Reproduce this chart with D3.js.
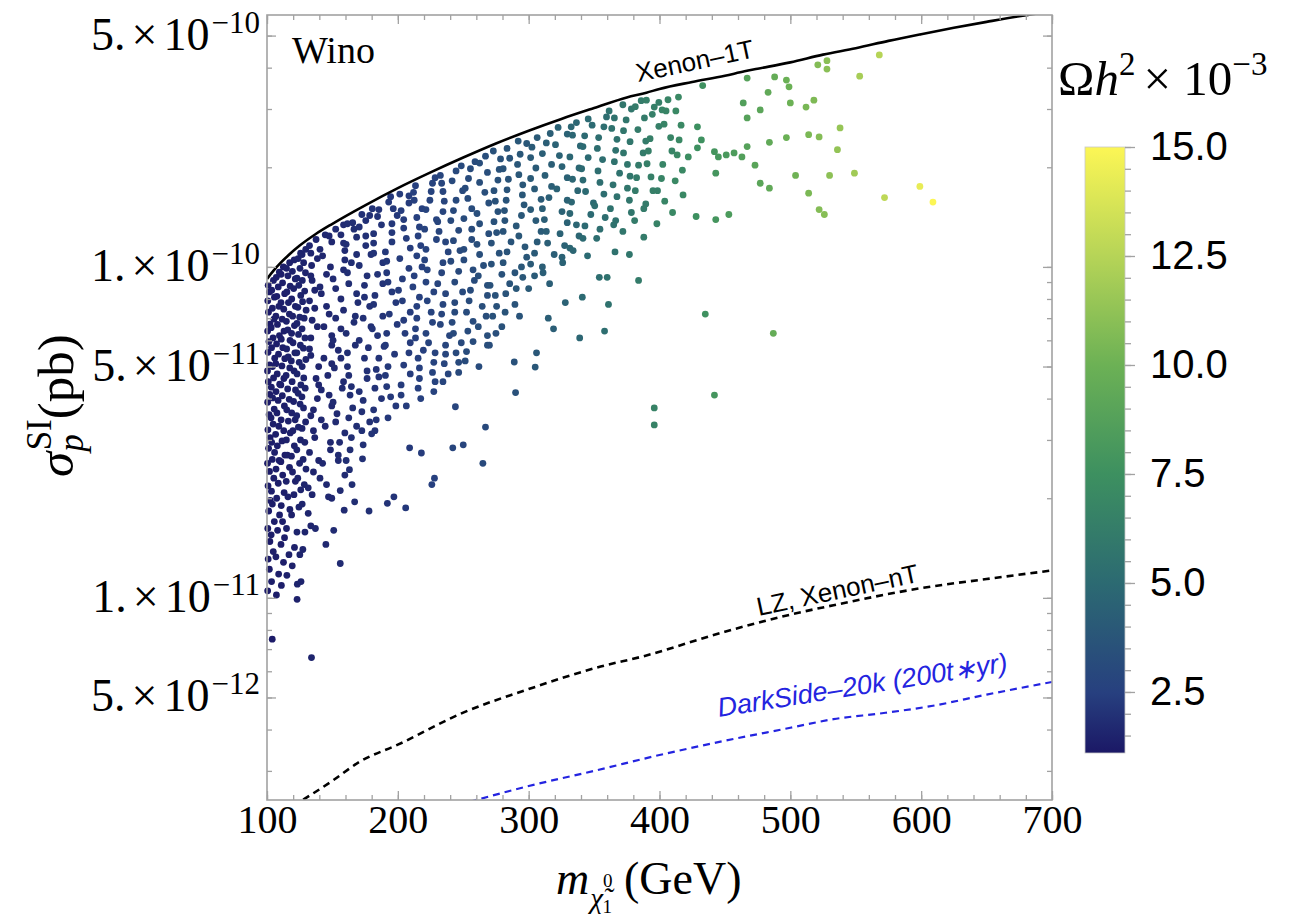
<!DOCTYPE html>
<html><head><meta charset="utf-8">
<script src="https://cdn.jsdelivr.net/npm/d3@7"></script>
<style>body{margin:0;background:#fff}svg{display:block}</style>
</head><body>
<svg id="chart" width="1294" height="922"></svg>
<script>
// ---------- data ----------
const xDomain = [100, 700];
const yDomain = [2.45e-12, 5.77e-10];
const xTicks = [100, 200, 300, 400, 500, 600, 700];
const yTickValues = [5e-10, 1e-10, 5e-11, 1e-11, 5e-12];
const yTickMant = ["5.", "1.", "5.", "1.", "5."];
const yTickExp = ["\u221210", "\u221210", "\u221211", "\u221211", "\u221212"];
const colorDomain = [1.1, 15.0];
const colorTicks = [2.5, 5.0, 7.5, 10.0, 12.5, 15.0];
const colorTickLabels = ["2.5", "5.0", "7.5", "10.0", "12.5", "15.0"];
const colorStops = [0, 0.10, 0.28, 0.46, 0.64, 0.82, 1.0];
const colorColors = ["#1b1866", "#27407f", "#2c6a72", "#3d9060", "#6cb155", "#b6d457", "#fcf655"];

// Xenon-1T limit (pb)
const xenon1TMass = [100,105,110,117,125,137,150,175,200,225,250,275,300,325,350,375,390,400,425,450,465,475,500,525,550,575,600,625,650,675,700];
const xenon1TSigma = [9.2e-11,9.75e-11,1.025e-10,1.09e-10,1.16e-10,1.255e-10,1.35e-10,1.535e-10,1.73e-10,1.93e-10,2.14e-10,2.36e-10,2.58e-10,2.80e-10,3.02e-10,3.25e-10,3.36e-10,3.45e-10,3.62e-10,3.78e-10,3.90e-10,3.97e-10,4.15e-10,4.38e-10,4.58e-10,4.82e-10,5.05e-10,5.28e-10,5.50e-10,5.72e-10,5.92e-10];
// LZ, Xenon-nT projection (pb)
const lzMass = [120,150,171,200,250,300,355,387,450,500,533,600,650,700];
const lzSigma = [2.35e-12,2.8e-12,3.2e-12,3.6e-12,4.5e-12,5.3e-12,6.2e-12,6.65e-12,7.9e-12,8.9e-12,9.5e-12,1.07e-11,1.14e-11,1.21e-11];
// DarkSide-20k (200 t*yr) projection (pb)
const darksideMass = [255,300,350,400,450,500,533,570,609,650,700];
const darksideSigma = [2.42e-12,2.7e-12,3.0e-12,3.35e-12,3.7e-12,4.05e-12,4.3e-12,4.48e-12,4.72e-12,5.1e-12,5.57e-12];

// scan points grouped by colour: [Omega h^2 (1e-3), [[mass GeV, sigma (1e-11 pb)], ...]]
const pointGroups = [
[1.2,[[100.5,1.05],[101.8,1.22],[100.9,1.31],[102.2,1.48],[100.6,1.62],[101.3,1.83],[102.5,1.97],[100.8,2.18],[101.9,2.41],[100.4,2.55],[101.2,2.83],[102.4,3.05],[100.7,3.22],[101.6,3.58],[100.5,3.9],[102.1,4.12],[101.0,4.5],[100.4,4.85],[101.9,5.06],[100.8,5.52],[101.5,5.95],[100.5,6.4],[102.3,6.72],[101.1,7.3],[100.6,7.9],[101.8,8.4],[100.9,8.8],[104,0.75]]],
[1.3,[[103.5,1.12],[104.8,1.38],[103.2,1.55],[105.6,1.7],[104.1,1.92],[103.4,2.1],[105.2,2.3],[104.0,2.62],[105.8,2.75],[103.6,2.95],[104.7,3.35],[103.1,3.5],[105.5,3.72],[104.3,4.02],[103.3,4.33],[105.0,4.62],[104.2,5.0],[105.9,5.3],[103.5,5.7],[104.6,6.1],[103.2,6.55],[105.3,6.95],[104.1,7.5],[105.7,8.1],[103.6,8.5],[104.9,9.1],
 [107.2,1.02],[108.9,1.18],[106.8,1.33],[108.1,1.6],[109.6,1.78],[107.4,2.0],[108.6,2.22],[106.9,2.45],[109.3,2.6],[107.9,2.88],[106.6,3.12],[109.0,3.3],[107.6,3.62],[108.5,3.95],[106.9,4.2],[109.7,4.42],[107.8,4.75],[106.7,5.1],[108.8,5.45],[107.3,5.85],[109.5,6.2],[108.0,6.7],[106.8,7.1],[109.1,7.6],[107.5,8.15],[108.6,8.7],[107.1,9.3],[109.4,9.65],
 [111.0,1.09],[112.6,1.28],[110.7,1.45],[113.4,1.52],[111.9,1.7],[110.9,1.9],[113.1,2.08],[112.0,2.35],[110.6,2.58],[113.7,2.7],[111.5,2.98],[112.8,3.2],[110.8,3.45],[113.3,3.8],[111.7,4.08],[110.6,4.4],[112.9,4.6],[111.4,5.02],[113.6,5.28],[112.1,5.7],[110.9,6.05],[113.0,6.4],[111.6,6.95],[112.8,7.45],[110.7,7.8],[113.5,8.3],[111.9,8.95],[110.8,9.5],[112.5,10.0]]],
[1.4,[[115.2,1.17],[116.8,1.35],[114.9,1.62],[117.5,1.85],[116.0,2.02],[114.7,2.25],[117.2,2.48],[115.6,2.7],[114.8,3.0],[117.8,3.15],[116.3,3.42],[115.1,3.7],[117.0,3.98],[115.8,4.28],[114.6,4.7],[117.4,4.95],[116.2,5.35],[115.0,5.65],[117.6,6.0],[115.9,6.45],[114.8,6.85],[117.1,7.2],[116.4,7.8],[115.2,8.4],[117.7,8.75],[116.0,9.4],[114.9,9.9],[117.3,10.3],
 [119.3,1.25],[121.0,1.42],[118.8,1.78],[120.6,2.05],[121.7,2.25],[119.5,2.4],[118.7,2.68],[120.9,2.88],[119.8,3.2],[121.5,3.45],[118.9,3.62],[120.3,3.92],[121.8,4.25],[119.2,4.5],[120.7,4.85],[118.6,5.2],[121.3,5.5],[119.9,5.9],[118.8,6.3],[121.0,6.65],[119.6,7.1],[121.7,7.6],[118.9,8.0],[120.4,8.6],[121.6,9.2],[119.4,9.7],[120.8,10.5],[123,0.99]]],
[1.5,[[123.2,1.1],[125.1,1.35],[122.9,1.58],[124.4,1.88],[125.8,2.12],[123.5,2.3],[124.9,2.55],[122.8,2.8],[125.6,3.0],[124.0,3.28],[122.7,3.55],[125.3,3.85],[123.8,4.15],[125.9,4.4],[123.0,4.75],[124.6,5.15],[122.8,5.5],[125.5,5.8],[124.1,6.25],[122.9,6.75],[125.0,7.05],[123.6,7.55],[125.8,8.2],[124.3,8.8],[122.9,9.25],[125.2,9.9],[123.8,10.6],[125.7,11.0],
 [127.4,1.4],[129.0,1.58],[126.9,1.92],[128.5,2.2],[129.8,2.45],[127.6,2.62],[128.9,2.95],[126.8,3.25],[129.5,3.4],[127.9,3.75],[126.7,4.05],[129.2,4.3],[128.1,4.62],[126.9,5.0],[129.7,5.25],[127.8,5.68],[129.0,6.1],[126.8,6.5],[128.4,7.0],[129.9,7.4],[127.2,7.85],[128.8,8.45],[127.0,9.1],[129.4,9.6],[128.0,10.3],[126.8,10.9],[129.6,11.3],[126,1.12],[134,0.66]]],
[1.55,[[133.5,1.65],[131.5,1.8],[134.5,2.05],[131.5,2.15],[135.5,2.4],[139.5,2.6],[132.5,2.75],[136.5,3.05],[135.5,3.2],[133.5,3.55],[135.5,3.7],[138.5,4.0],[139.5,4.4],[137.5,4.6],[139.5,5.0],[133.5,5.4],[132.5,5.65],[133.5,6.1],[138.5,6.6],[134.5,6.9],[136.5,7.5],[132.5,7.9],[136.5,8.5],[134.5,9.1],[133.5,9.4],[134.1,10.1],[138.5,10.6],[133.5,11.0],[132.5,11.6],[137.5,12.1]]],
[1.65,[[149.5,2.0],[145.5,2.2],[140.5,2.3],[142.5,2.55],[148.5,2.8],[148.5,2.95],[144.5,3.3],[141.5,3.45],[149.5,3.8],[147.5,4.1],[141.5,4.25],[146.5,4.7],[149.5,5.1],[143.5,5.3],[149.5,5.8],[149.5,6.2],[143.5,6.6],[147.5,7.2],[145.5,7.6],[141.5,8.3],[140.5,8.7],[145.5,9.5],[148.5,10.0],[142.5,10.8],[140.5,11.3],[149.5,11.9],[147.5,12.4],[144.5,12.5],[137,1.62],[145,1.45],[147,2.02]]],
[1.75,[[159.5,2.35],[154.5,2.6],[154.5,2.7],[155.5,2.95],[159.5,3.15],[152.5,3.4],[153.5,3.6],[150.5,3.9],[157.5,4.3],[158.5,4.5],[151.5,4.95],[156.5,5.3],[154.5,5.6],[150.5,6.0],[156.5,6.5],[152.5,7.0],[158.5,7.4],[156.5,8.0],[152.5,8.6],[150.5,9.2],[158.5,9.8],[159.5,10.5],[159.5,11.2],[158.5,11.8],[156.5,12.5],[152.5,13.0],[158.5,13.4],[156,1.27],[151,1.60],[156,2.11],[159,1.84]]],
[1.85,[[160.5,2.6],[163.5,2.8],[164.5,3.05],[168.5,3.3],[162.5,3.5],[165.5,3.75],[163.5,4.1],[164.5,4.35],[162.5,4.7],[161.5,5.0],[161.5,5.5],[167.5,5.8],[160.5,6.3],[166.5,6.8],[167.5,7.1],[169.5,7.8],[168.5,8.3],[162.5,8.9],[161.5,9.6],[164.5,10.3],[168.5,10.9],[160.5,11.7],[168.5,12.3],[166.5,13.0],[165.5,13.6],[161.5,13.5],[165,2.20],[163,2.44],[167,1.95]]],
[1.95,[[173.5,2.9],[172.5,3.2],[178.5,3.4],[172.5,3.65],[173.5,3.95],[170.5,4.2],[176.5,4.6],[176.5,4.85],[174.5,5.3],[177.5,5.7],[170.5,6.0],[179.5,6.6],[173.5,7.0],[178.5,7.6],[174.5,8.1],[174.5,8.8],[176.5,9.4],[170.5,10.1],[179.5,10.9],[175.5,11.6],[175.5,12.4],[170.5,13.2],[175.5,13.8],[178.5,14.3],[172.5,14.4],[178,1.83],[173,2.63]]],
[2.05,[[182.5,3.2],[183.5,3.45],[181.5,3.7],[187.5,4.0],[182.5,4.3],[185.5,4.65],[183.5,4.9],[185.5,5.3],[189.5,5.75],[184.5,6.2],[180.5,6.5],[188.5,7.1],[181.5,7.7],[182.5,8.2],[188.5,8.9],[184.5,9.5],[188.5,10.3],[181.5,11.0],[181.5,11.8],[181.5,12.6],[187.5,13.4],[184.5,14.2],[185.5,14.9],[180.5,15.0],[192,1.93],[180,3.13],[197,2.02]]],
[2.2,[[192.5,3.5],[198.5,3.8],[194.5,4.05],[191.5,4.35],[190.5,4.7],[192.5,5.0],[197.5,5.45],[190.5,5.8],[191.5,6.3],[199.5,6.7],[193.5,7.2],[198.5,7.8],[195.5,8.4],[192.5,9.0],[191.5,9.6],[191.5,10.4],[190.5,11.1],[195.5,11.9],[195.5,12.7],[195.5,13.5],[199.5,14.3],[196.5,15.0],[193.0,15.7],[194.5,16.3],[206,1.87],[209,2.84]]],
[2.35,[[206.5,3.8],[202.5,4.1],[202.5,4.4],[209.5,4.75],[204.5,5.05],[208.5,5.5],[209.5,5.9],[205.5,6.3],[204.5,6.9],[209.5,7.3],[203.5,7.9],[200.5,8.5],[203.5,9.2],[208.5,9.9],[201.5,10.6],[209.5,11.4],[206.5,12.2],[204.5,13.1],[204.5,13.9],[202.5,14.8],[208.5,15.6],[208.5,16.4],[201.5,16.6],[218,2.74]]],
[2.5,[[217.5,4.0],[215.5,4.3],[216.5,4.6],[216.5,4.95],[215.5,5.3],[219.5,5.6],[213.5,6.1],[213.5,6.5],[214.5,7.0],[214.5,7.6],[216.5,8.1],[211.5,8.7],[212.5,9.4],[218.5,10.0],[214.5,10.8],[217.5,11.6],[215.5,12.4],[216.5,13.2],[214.5,14.1],[218.5,15.0],[212.5,15.9],[212.0,16.8],[213.5,17.6],[226,2.20],[228,2.30]]],
[2.65,[[227.5,4.2],[228.5,4.5],[226.5,4.8],[227.5,5.15],[228.5,5.5],[223.5,5.9],[221.5,6.3],[226.5,6.8],[225.5,7.3],[222.5,7.9],[227.5,8.4],[221.5,9.0],[222.5,9.8],[220.5,10.5],[221.5,11.3],[229.5,12.1],[220.5,13.0],[229.5,13.9],[221.5,14.9],[224.5,15.9],[225.5,16.9],[226.5,17.9],[228.5,18.6]]],
[2.8,[[234.5,4.5],[238.5,4.75],[235.5,5.1],[236.5,5.45],[236.5,5.8],[239.5,6.2],[232.5,6.7],[233.5,7.2],[234.5,7.7],[236.5,8.3],[230.5,8.9],[233.5,9.6],[234.5,10.3],[238.5,11.1],[236.5,11.9],[231.5,12.8],[230.5,13.7],[234.5,14.7],[235.5,15.8],[234.5,16.9],[233.5,17.9],[232.5,18.9],[242,2.84],[244,3.78],[250,2.9]]],
[3.0,[[246.5,4.8],[246.5,5.15],[244.5,5.5],[248.5,5.9],[242.5,6.3],[241.5,6.8],[243.5,7.3],[243.5,7.8],[249.5,8.4],[243.5,9.0],[246.5,9.7],[240.5,10.4],[247.5,11.2],[242.5,12.0],[246.5,12.9],[240.5,13.8],[242.5,14.8],[244.5,15.9],[249.5,17.0],[241.5,18.2],[244.5,19.5],[248.5,20.2],[265,2.55],[267,3.28]]],
[3.15,[[251.5,5.2],[252.5,5.55],[257.5,5.95],[253.5,6.4],[257.5,6.85],[252.5,7.3],[254.5,7.9],[255.5,8.5],[258.5,9.1],[257.5,9.8],[250.5,10.5],[250.5,11.3],[256.5,12.1],[256.5,13.0],[250.5,14.0],[256.5,15.0],[253.5,16.1],[251.5,17.3],[254.0,18.5],[255.5,19.8],[259.0,20.8],[262,5.0]]],
[3.3,[[268.5,5.8],[268.5,6.2],[261.5,6.6],[267.5,7.1],[264.5,7.6],[268.5,8.2],[268.5,8.8],[261.5,9.4],[265.5,10.1],[262.5,10.9],[260.5,11.7],[269.5,12.6],[262.5,13.5],[260.5,14.5],[269.5,15.6],[266.5,16.8],[262.5,18.0],[268.5,19.3],[262.5,20.6],[267.0,21.6],[270,5.8],[275,6.3]]],
[3.5,[[279.5,6.6],[272.5,7.1],[275.5,7.6],[274.5,8.2],[270.5,8.8],[279.5,9.5],[271.5,10.2],[277.5,11.0],[271.5,11.8],[275.5,12.7],[273.5,13.7],[276.5,14.7],[274.5,15.8],[273.5,17.0],[276.5,18.3],[277.5,19.7],[278.5,21.2],[273.0,22.4],[290,4.17],[289,5.16]]],
[3.65,[[289.5,7.7],[282.5,8.3],[285.5,8.9],[289.5,9.6],[280.5,10.3],[283.5,11.1],[286.5,11.9],[280.5,12.8],[281.8,13.8],[281.5,14.8],[282.8,15.9],[283.5,17.1],[284.5,18.4],[280.5,19.8],[285.5,21.3],[283.5,22.8],[282,7.3],[293,7.1]]],
[3.85,[[290.5,8.6],[295.5,9.3],[294.5,10.0],[298.5,10.7],[297.2,11.5],[292.5,12.4],[290.5,13.3],[294.5,14.3],[296.5,15.4],[295.2,16.5],[295.5,17.7],[292.5,19.0],[291.5,20.4],[293.5,21.9],[298.5,23.6],[292.0,24.0],[305,4.98],[306,5.5]]],
[4.05,[[304.5,9.4],[301.5,10.2],[304.5,11.0],[306.5,11.9],[309.5,12.8],[305.5,13.8],[301.5,14.9],[309.5,16.0],[304.5,17.2],[301.5,18.5],[305.5,19.9],[301.5,21.4],[302.5,23.0],[306.5,24.6],[300,8.6]]],
[4.25,[[310.5,10.0],[319.5,10.9],[314.5,11.8],[313.5,12.8],[312.0,13.9],[310.5,15.0],[315.5,16.2],[317.5,17.5],[312.5,18.9],[317.5,20.4],[310.5,22.0],[313.5,23.7],[316.5,25.3],[311,9.6],[316,8.9],[315,7.0],[319,6.5]]],
[4.5,[[325.5,10.7],[327.5,11.6],[324.0,12.6],[329.5,13.6],[325.5,14.7],[329.5,15.9],[321.5,17.2],[329.5,18.6],[325.5,20.1],[323.5,21.7],[320.5,23.4],[329.5,25.2],[322.5,26.4],[326,10.3],[328,7.8]]],
[4.75,[[331.5,11.4],[338.5,12.4],[336.5,13.4],[331.5,14.5],[332.8,15.7],[337.5,17.0],[333.5,18.4],[338.5,19.9],[331.5,21.5],[339.5,23.2],[333.5,25.0],[332.5,26.5],[336.5,27.3],[334,11.2],[339,6.1]]],
[5.0,[[341.5,12.2],[343.0,13.3],[347.5,14.4],[349.5,15.6],[343.5,16.9],[341.5,18.3],[340.5,19.8],[345.5,21.4],[341.5,23.1],[342.8,24.9],[348.5,26.8],[345.5,28.0],[345,10.8],[341,8.1]]],
[5.25,[[354.5,13.0],[358.5,14.1],[350.5,15.3],[357.5,16.6],[354.5,18.0],[353.0,19.5],[356.5,21.1],[352.5,22.8],[353.5,24.6],[357.5,26.5],[359.5,28.4],[352,12.2],[354,9.3],[358,6.4]]],
[5.5,[[366.5,13.8],[362.5,15.0],[367.5,16.3],[364.5,17.7],[369.5,19.2],[365.5,20.8],[366.5,22.5],[367.5,24.3],[363.5,26.2],[365.5,28.2],[361.5,29.6],[360,9.3],[361,7.7],[365,13.4],[366,11.1]]],
[5.8,[[378.5,14.6],[377.0,15.9],[375.5,17.3],[377.5,18.8],[375.5,20.4],[372.5,22.1],[377.5,23.9],[372.5,25.8],[374.5,27.8],[378.5,30.0],[372.0,30.9],[372,12.8],[377,10.9]]],
[6.1,[[389.5,15.5],[381.5,17.0],[382.5,18.6],[384.0,20.3],[387.5,22.1],[389.5,24.0],[383.5,26.0],[388.5,28.2],[381.5,30.5],[386.0,31.8],[381,13.8],[384,9.1],[388,15.0],[388,12.3]]],
[6.4,[[398.5,17.0],[393.5,18.7],[390.5,20.5],[391.5,22.4],[392.8,24.4],[399.5,26.6],[394.5,28.9],[399.5,31.4],[390,31.9],[395,17.0],[396,30.4]]],
[6.6,[[396,3.75],[396,3.33],[398,13.5]]],
[6.7,[[401.5,18.5],[402.5,20.4],[409.5,22.4],[408.5,24.6],[403.5,27.0],[405.0,29.6],[406.5,32.0],[404,15.8],[402,29.8]]],
[7.0,[[417.5,19.6],[413.5,21.8],[415.0,24.2],[416.5,26.8],[412.5,29.6],[414.5,32.6],[412,18.2],[410,14.6],[418,16.5]]],
[7.3,[[422,21.5]]],
[7.5,[[429,26.5],[429,22.9],[428,14.2]]],
[7.6,[[433,35.3],[432,24.2],[435,7.2]]],
[7.9,[[442,22.3],[443,19.2],[443,13.9],[442,4.1]]],
[8.0,[[445,21.5]]],
[8.2,[[451,21.8]]],
[8.3,[[453,14.4]]],
[8.4,[[457,22.1]]],
[8.6,[[463,21.5],[464,31.3]]],
[8.8,[[467,37.2],[467,23.1],[467,28.2]]],
[9.0,[[473,20.3]]],
[9.1,[[477,29.8],[477,17.9]]],
[9.4,[[483,33.7],[484,23.8],[484,17.3]]],
[9.6,[[488,37.5],[487,6.3]]],
[9.9,[[497,36.7],[499,35.0],[497,24.6]]],
[10.0,[[500,31.3]]],
[10.1,[[504,18.9]]],
[10.4,[[512,30.4]]],
[10.5,[[514,25.1],[514,16.7]]],
[10.6,[[518,31.9]]],
[10.8,[[521,40.8],[522,24.7],[522,14.9]]],
[10.9,[[526,14.4]]],
[11.0,[[528,42.0],[528,39.6]]],
[11.1,[[530,18.9]]],
[11.3,[[536,22.6]]],
[11.4,[[538,26.3]]],
[11.8,[[549,19.2]]],
[12.0,[[553,37.7]]],
[12.5,[[568,43.7]]],
[12.8,[[572,16.2]]],
[14.3,[[599,17.5]]],
[15.0,[[609,15.7]]]
];

// ---------- layout ----------
const plot = {left: 267, right: 1052, top: 15, bottom: 800};
const bar = {x: 1085, w: 40, top: 147, bottom: 753};
const serif = "'Liberation Serif','Times New Roman',serif";
const sans = "'Liberation Sans',Arial,sans-serif";
const frameColor = "#a2a2a2";

const svg = d3.select("#chart");
const x = d3.scaleLinear().domain(xDomain).range([plot.left, plot.right]);
const y = d3.scaleLog().domain(yDomain).range([plot.bottom, plot.top]);
const cPos = d3.scaleLinear().domain(colorDomain).range([bar.bottom, bar.top]);
const color = d3.scaleLinear()
  .domain(colorStops.map(t => colorDomain[0] + t * (colorDomain[1] - colorDomain[0])))
  .range(colorColors).interpolate(d3.interpolateRgb).clamp(true);

svg.append("rect").attr("width", 1294).attr("height", 922).attr("fill", "#fff");
const defs = svg.append("defs");
defs.append("clipPath").attr("id", "clip").append("rect")
  .attr("x", plot.left).attr("y", plot.top)
  .attr("width", plot.right - plot.left).attr("height", plot.bottom - plot.top);

// ---------- points ----------
const points = pointGroups.flatMap(([om, pts]) => pts.map(p => ({m: p[0], s: p[1] * 1e-11, om})));
svg.append("g").selectAll("circle").data(points).join("circle")
  .attr("cx", d => x(d.m)).attr("cy", d => y(d.s))
  .attr("r", 3.4).attr("fill", d => color(d.om));

// ---------- curves ----------
const line = d3.line().x(d => x(d[0])).y(d => y(d[1])).curve(d3.curveMonotoneX);
const gl = svg.append("g").attr("clip-path", "url(#clip)");
gl.append("path").datum(xenon1TMass.map((m, i) => [m, xenon1TSigma[i]]))
  .attr("d", line).attr("fill", "none").attr("stroke", "#000").attr("stroke-width", 2.6);
gl.append("path").datum(lzMass.map((m, i) => [m, lzSigma[i]]))
  .attr("d", line).attr("fill", "none").attr("stroke", "#000").attr("stroke-width", 2.6)
  .attr("stroke-dasharray", "7,5");
gl.append("path").datum(darksideMass.map((m, i) => [m, darksideSigma[i]]))
  .attr("d", line).attr("fill", "none").attr("stroke", "#2424e0").attr("stroke-width", 2.2)
  .attr("stroke-dasharray", "7,5");

// ---------- frame & ticks ----------
function styleAxis(g) {
  g.select(".domain").remove();
  g.selectAll(".tick line").attr("stroke", frameColor).attr("stroke-width", 1.3);
}
svg.append("g").attr("transform", `translate(0,${plot.bottom})`)
  .call(d3.axisBottom(x).tickValues(x.ticks(30)).tickSize(-5).tickFormat("")).call(styleAxis);
svg.append("g").attr("transform", `translate(0,${plot.top})`)
  .call(d3.axisTop(x).tickValues(x.ticks(30)).tickSize(-5).tickFormat("")).call(styleAxis);
svg.append("g").attr("transform", `translate(0,${plot.top})`)
  .call(d3.axisTop(x).tickValues(xTicks).tickSize(-9).tickFormat("")).call(styleAxis);
const xb = svg.append("g").attr("transform", `translate(0,${plot.bottom})`)
  .call(d3.axisBottom(x).tickValues(xTicks).tickSize(-9).tickPadding(5).tickFormat(d3.format("d")))
  .call(styleAxis);
xb.selectAll("text").attr("font-family", serif).attr("font-size", 40).attr("fill", "#000");

const yMinor = y.ticks();
svg.append("g").attr("transform", `translate(${plot.left},0)`)
  .call(d3.axisLeft(y).tickValues(yMinor).tickSize(-5).tickFormat("")).call(styleAxis);
svg.append("g").attr("transform", `translate(${plot.left},0)`)
  .call(d3.axisLeft(y).tickValues(yTickValues).tickSize(-9).tickFormat("")).call(styleAxis);
svg.append("g").attr("transform", `translate(${plot.right},0)`)
  .call(d3.axisRight(y).tickValues(yMinor).tickSize(-5).tickFormat("")).call(styleAxis);
svg.append("g").attr("transform", `translate(${plot.right},0)`)
  .call(d3.axisRight(y).tickValues(yTickValues).tickSize(-9).tickFormat("")).call(styleAxis);

svg.append("rect").attr("x", plot.left).attr("y", plot.top)
  .attr("width", plot.right - plot.left).attr("height", plot.bottom - plot.top)
  .attr("fill", "none").attr("stroke", frameColor).attr("stroke-width", 1.6);

// y tick labels
yTickValues.forEach((v, i) => {
  const t = svg.append("text").attr("x", plot.left - 7).attr("y", y(v) + 14)
    .attr("text-anchor", "end").attr("font-family", serif).attr("font-size", 46).attr("fill", "#000");
  t.append("tspan").text(yTickMant[i]);
  t.append("tspan").attr("dx", 6).text("\u00d7");
  t.append("tspan").attr("dx", 6).text("10");
  t.append("tspan").attr("dx", 2).attr("dy", -17).attr("font-size", 31).text(yTickExp[i]);
});

// axis titles
const xt = svg.append("text").attr("x", 556).attr("y", 894)
  .attr("font-family", serif).attr("font-size", 46).attr("fill", "#000");
xt.append("tspan").attr("font-style", "italic").text("m");
xt.append("tspan").attr("font-style", "italic").attr("font-size", 29).attr("dx", 1).attr("dy", 14).text("\u03c7\u0303");
xt.append("tspan").attr("font-size", 19).attr("dy", -21).text("0");
xt.append("tspan").attr("font-size", 19).attr("dx", -10).attr("dy", 26).text("1");
xt.append("tspan").attr("dx", 12).attr("dy", -19).text("(GeV)");

const yt = svg.append("text").attr("transform", "translate(73,477) rotate(-90)")
  .attr("font-family", serif).attr("font-size", 51).attr("fill", "#000");
yt.append("tspan").attr("font-style", "italic").text("\u03c3");
yt.append("tspan").attr("font-style", "italic").attr("font-size", 35).attr("dy", 10).text("p");
yt.append("tspan").attr("font-size", 35).attr("dx", -16).attr("dy", -32).text("SI");
yt.append("tspan").attr("dy", 22).text("(pb)");

// in-plot labels
svg.append("text").attr("x", plot.left + 25).attr("y", 63)
  .attr("font-family", serif).attr("font-size", 38).attr("fill", "#000").text("Wino");
svg.append("text").attr("transform", `translate(${x(427)},${y(4.2e-10)}) rotate(-12)`)
  .attr("text-anchor", "middle").attr("dy", "0.35em")
  .attr("font-family", sans).attr("font-size", 26).attr("fill", "#000").text("Xenon\u20131T");
svg.append("text").attr("transform", `translate(${x(536)},${y(1.057e-11)}) rotate(-12)`)
  .attr("text-anchor", "middle").attr("dy", "0.35em")
  .attr("font-family", sans).attr("font-size", 26).attr("fill", "#000").text("LZ, Xenon\u2013nT");
svg.append("text").attr("transform", `translate(${x(555)},${y(5.46e-12)}) rotate(-9)`)
  .attr("text-anchor", "middle").attr("dy", "0.35em")
  .attr("font-family", sans).attr("font-size", 27).attr("font-style", "italic")
  .attr("fill", "#2424e0").text("DarkSide\u201320k (200t\u2217yr)");

// ---------- colorbar ----------
const grad = defs.append("linearGradient").attr("id", "cbar")
  .attr("x1", 0).attr("y1", 1).attr("x2", 0).attr("y2", 0);
colorStops.forEach((t, i) => grad.append("stop").attr("offset", t).attr("stop-color", colorColors[i]));
svg.append("rect").attr("x", bar.x).attr("y", bar.top).attr("width", bar.w)
  .attr("height", bar.bottom - bar.top).attr("fill", "url(#cbar)")
  .attr("stroke", "#c8c8c8").attr("stroke-width", 0.8);
const cg = svg.append("g").attr("transform", `translate(${bar.x + bar.w},0)`);
cg.call(d3.axisRight(cPos).tickValues(cPos.ticks(28)).tickSize(6).tickFormat("")).call(styleAxis);
const cg2 = svg.append("g").attr("transform", `translate(${bar.x + bar.w},0)`);
cg2.call(d3.axisRight(cPos).tickValues(colorTicks).tickSize(10).tickPadding(15)
  .tickFormat((d, i) => colorTickLabels[i])).call(styleAxis);
cg2.selectAll("text").attr("font-family", sans).attr("font-size", 40).attr("fill", "#000");

const ct = svg.append("text").attr("x", 1058).attr("y", 95)
  .attr("font-family", serif).attr("font-size", 49).attr("fill", "#000");
ct.append("tspan").text("\u03a9");
ct.append("tspan").attr("font-style", "italic").text("h");
ct.append("tspan").attr("font-size", 33).attr("dy", -20).text("2");
ct.append("tspan").attr("dy", 20).attr("dx", 8).text("\u00d7 10");
ct.append("tspan").attr("font-size", 33).attr("dy", -20).text("\u22123");
</script>
</body></html>
